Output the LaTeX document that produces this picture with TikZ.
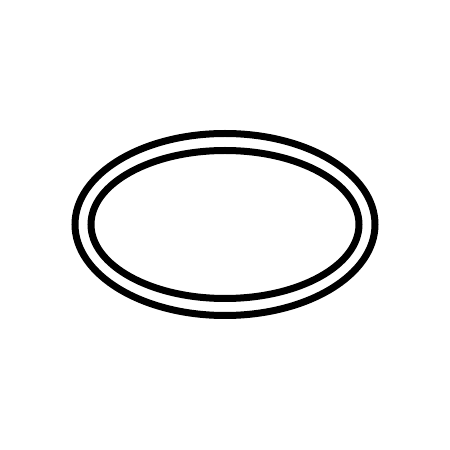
\documentclass[tikz,border=0pt]{standalone}
\usetikzlibrary{shapes.geometric}

\begin{document}
\begin{tikzpicture}[x=1pt, y=1pt,
ring/.style={ellipse,draw,line width=7pt,inner sep=0pt,outer sep=0pt}
]
\useasboundingbox (0,0) rectangle (450,450);
%create rings
\node[ring, minimum width=300pt, minimum height=182pt] (outer) at (225,225.5) {};
\node[ring, minimum width=268pt, minimum height=148pt] (inner) at (outer.center) {};
\end{tikzpicture}
\end{document}
